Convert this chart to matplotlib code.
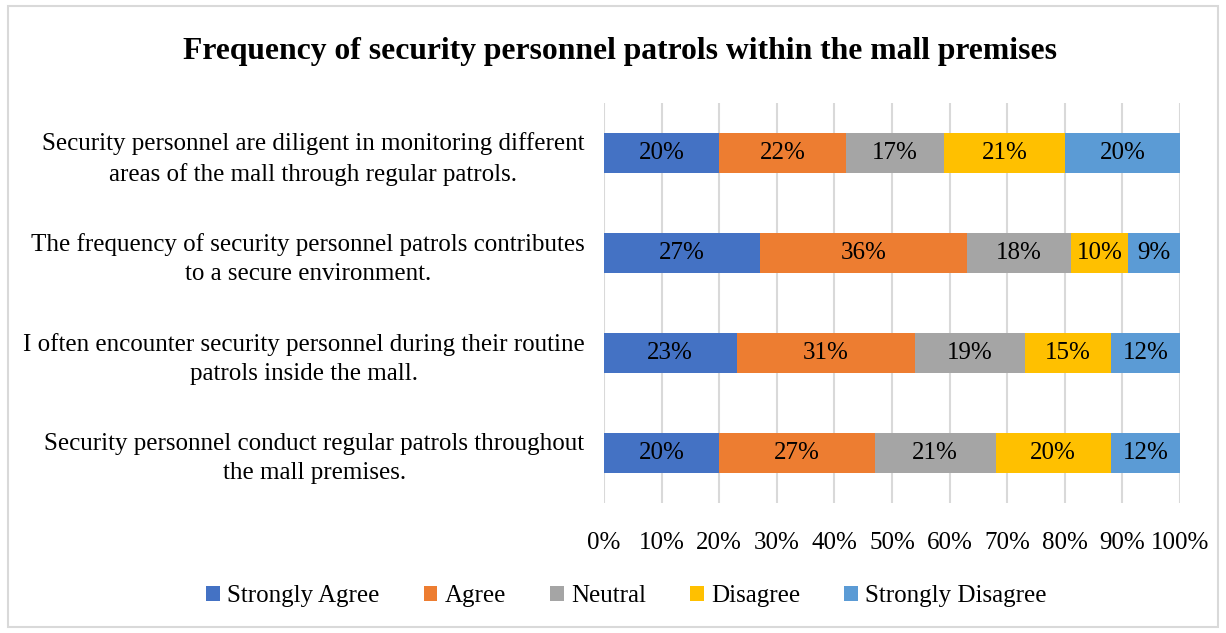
import matplotlib
matplotlib.use("Agg")
import matplotlib.pyplot as plt
from matplotlib.patches import Rectangle

# data
statements = [
    "Security personnel are diligent in monitoring different\nareas of the mall through regular patrols.",
    "The frequency of security personnel patrols contributes\nto a secure environment.",
    "I often encounter security personnel during their routine\npatrols inside the mall.",
    "Security personnel conduct regular patrols throughout\nthe mall premises.",
]
strongly_agree = [20, 27, 23, 20]
agree = [22, 36, 31, 27]
neutral = [17, 18, 19, 21]
disagree = [21, 10, 15, 20]
strongly_disagree = [20, 9, 12, 12]

series_names = ["Strongly Agree", "Agree", "Neutral", "Disagree", "Strongly Disagree"]
series = [strongly_agree, agree, neutral, disagree, strongly_disagree]
colors = ["#4472C4", "#ED7D31", "#A5A5A5", "#FFC000", "#5B9BD5"]
ticks = list(range(0, 101, 10))

plt.rcParams["font.family"] = ["Liberation Serif", "DejaVu Serif"]

fig = plt.figure(figsize=(12.26, 6.33), dpi=100)
ax = fig.add_axes([0.4927, 0.2054, 0.4698, 0.632])

ypos = list(range(len(statements)))
left = [0] * len(statements)
for name, vals, col in zip(series_names, series, colors):
    bars = ax.barh(ypos, vals, left=left, height=0.4, color=col, label=name, zorder=3)
    ax.bar_label(bars, labels=[f"{v}%" for v in vals], label_type="center",
                 fontsize=18, color="black")
    left = [a + b for a, b in zip(left, vals)]

ax.set_xlim(0, 100)
ax.set_ylim(len(statements) - 0.5, -0.5)
ax.set_xticks(ticks)
ax.set_xticklabels([f"{t}%" for t in ticks], fontsize=18)
ax.set_yticks(ypos)
ax.set_yticklabels(statements, fontsize=18, multialignment="center", linespacing=1.4)
ax.tick_params(axis="x", length=0, pad=21)
ax.tick_params(axis="y", length=0, pad=14)
ax.grid(axis="x", color="#D9D9D9", linewidth=1.5, zorder=0)
for s in ax.spines.values():
    s.set_visible(False)

fig.text(0.506, 0.918, "Frequency of security personnel patrols within the mall premises",
         ha="center", va="center", fontsize=22.8, fontweight="bold")

fig.legend(loc="center", bbox_to_anchor=(0.511, 0.058), ncol=5, frameon=False,
           fontsize=18, handlelength=0.55, handleheight=0.55, handletextpad=0.3,
           columnspacing=1.75)

fig.patches.append(Rectangle((8 / 1226, 6 / 633), 1210 / 1226, 621 / 633,
                             transform=fig.transFigure, fill=False,
                             edgecolor="#D9D9D9", linewidth=1.5))

fig.savefig("out.png", dpi=100)
